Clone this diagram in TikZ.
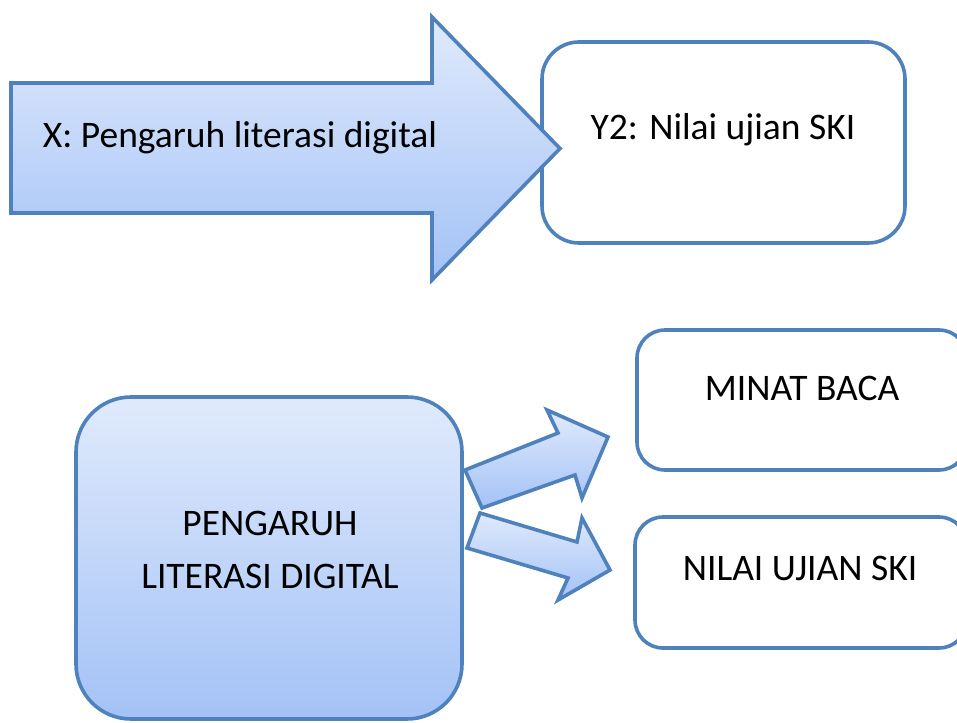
\documentclass[tikz,border=0pt]{standalone}
\usepackage{fontspec}
\setmainfont{Carlito}
\definecolor{edgeblue}{RGB}{79,129,189}
\definecolor{fillTop}{RGB}{224,234,252}
\definecolor{fillBot}{RGB}{163,194,246}
\tikzset{
  blockshape/.style={draw=edgeblue, line width=3.6pt, line join=miter, top color=fillTop, bottom color=fillBot},
  roundbox/.style={draw=edgeblue, line width=3.6pt, fill=white, inner sep=0pt},
  lbl/.style={inner sep=0pt, font=\fontsize{37.5}{53}\selectfont, text=black}
}
\begin{document}
\begin{tikzpicture}[x=1pt,y=-1pt]
\useasboundingbox (0,0) rectangle (957,722);
\begin{scope}
\clip (0,0) rectangle (957,722);
% Y2 box
\node[roundbox, rounded corners=37pt, minimum width=363pt, minimum height=201pt] (y2box) at (723.5,142.5) {};
\node[lbl, anchor=base] (y2text) at (723,140) {Y2: Nilai ujian SKI};
% big arrow
\draw[blockshape] (11,83) -- (432,83) -- (432,17) -- (560,148.5) -- (432,280) -- (432,213) -- (11,213) -- cycle;
\node[lbl, anchor=base] (xtext) at (240,148) {X: Pengaruh literasi digital};
% bottom left box
\node[roundbox, blockshape, rounded corners=55pt, minimum width=386pt, minimum height=322pt] (pbox) at (269,558) {};
\node[lbl, anchor=base, align=center] (ptext) at (270,588) {PENGARUH\\LITERASI DIGITAL};
% right boxes
\node[roundbox, rounded corners=28pt, minimum width=330pt, minimum height=140pt] (mbox) at (802,400) {};
\node[lbl, anchor=base] (mtext) at (802,400) {MINAT BACA};
\node[roundbox, rounded corners=28pt, minimum width=332pt, minimum height=131pt] (nbox) at (801,582.5) {};
\node[lbl, anchor=base] (ntext) at (800,580) {NILAI UJIAN SKI};
% small block arrows
\draw[blockshape] (465,470) -- (558,433) -- (547,410) -- (608,437) -- (582,498) -- (575,475) -- (482,508) -- cycle;
\draw[blockshape] (480,513) -- (577,542) -- (582,518) -- (610,570) -- (558,600) -- (568,578) -- (467,548) -- cycle;
\end{scope}
\end{tikzpicture}
\end{document}
